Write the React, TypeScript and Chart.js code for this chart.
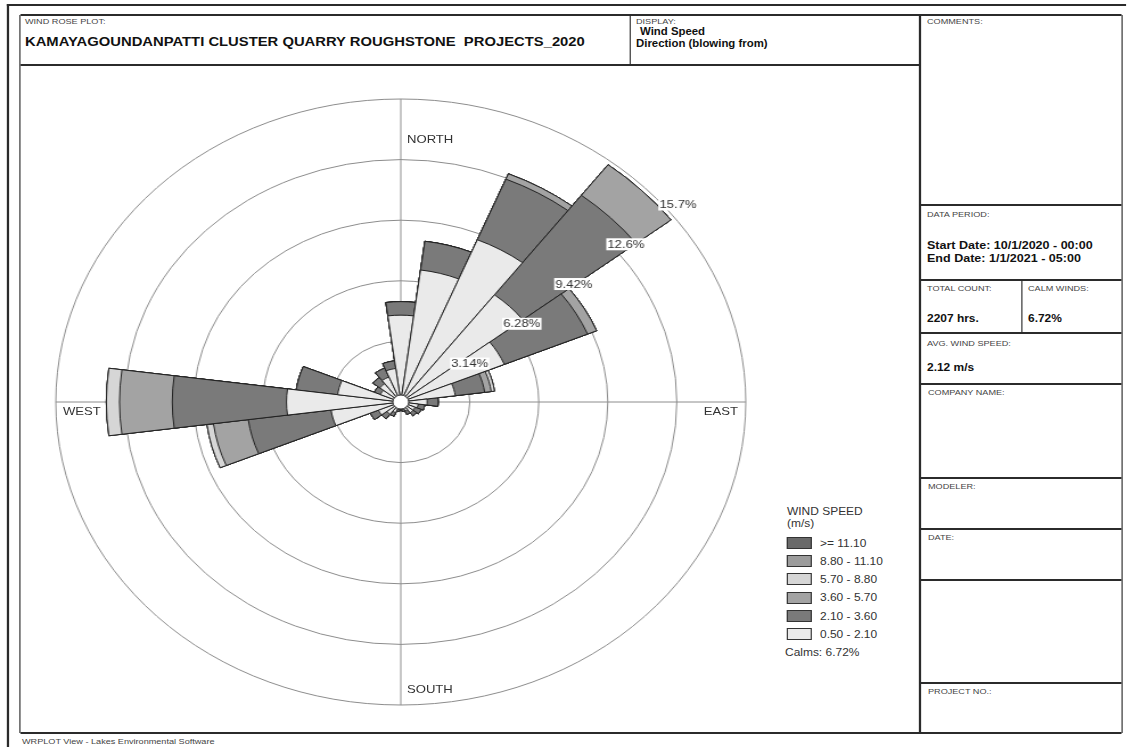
import React, { useEffect, useRef } from "react";
import { Chart, registerables } from "chart.js";

Chart.register(...registerables);

// ---------- DATA ----------
// 24 directions (degrees, "blowing from"), clockwise from North
const DIRECTIONS = [0, 15, 30, 45, 60, 75, 90, 105, 120, 135, 150, 165, 180, 195, 210, 225, 240, 255, 270, 285, 300, 315, 330, 345];

const SPEED_BINS = ["0.50 - 2.10", "2.10 - 3.60", "3.60 - 5.70", "5.70 - 8.80", "8.80 - 11.10", ">= 11.10"];
const BIN_COLORS = ["#eaeaea", "#7a7a7a", "#a3a3a3", "#d6d6d6", "#9c9c9c", "#6a6a6a"];

// frequency (%) per direction for each wind-speed class
const BIN_0_5_2_1 = [4.5, 6.9, 9.1, 7.0, 5.1, 2.5, 1.2, 0.8, 0.7, 0.7, 0.5, 0.4, 0.3, 0.4, 0.6, 0.8, 1.1, 3.2, 5.2, 2.9, 1.0, 1.2, 1.4, 1.75];
const BIN_2_1_3_6 = [0.7, 1.5, 3.4, 6.5, 4.1, 1.35, 0.5, 0.3, 0.3, 0.2, 0.2, 0.1, 0.1, 0.1, 0.2, 0.3, 0.4, 3.8, 5.2, 1.9, 0.3, 0.4, 0.5, 0.4];
const BIN_3_6_5_7 = [0, 0, 0.3, 2.0, 0.45, 0.3, 0, 0, 0, 0, 0, 0, 0, 0, 0, 0, 0, 1.6, 2.4, 0, 0, 0, 0, 0];
const BIN_5_7_8_8 = [0, 0, 0, 0, 0, 0.15, 0, 0, 0, 0, 0, 0, 0, 0, 0, 0, 0, 0.3, 0.6, 0, 0, 0, 0, 0];
const BIN_8_8_11_1 = [0, 0, 0, 0, 0, 0, 0, 0, 0, 0, 0, 0, 0, 0, 0, 0, 0, 0, 0, 0, 0, 0, 0, 0];
const BIN_GE_11_1 = [0, 0, 0, 0, 0, 0, 0, 0, 0, 0, 0, 0, 0, 0, 0, 0, 0, 0, 0, 0, 0, 0, 0, 0];

const RING_VALUES = [3.14, 6.28, 9.42, 12.56, 15.7];
const RING_LABELS = ["3.14%", "6.28%", "9.42%", "12.6%", "15.7%"];
const CALMS = "6.72%";

// ---------- LAYOUT ----------
const SX = 1.1386; // whole sheet is stretched horizontally
const FONT = '"Liberation Sans", Arial, sans-serif';
const LINE = "#2b2b2b";

const roseLabelPlugin = {
  id: "roseDecor",
  beforeDatasetsDraw(chart: any) {
    const s = chart.scales.r;
    const ctx = chart.ctx;
    const cx = s.xCenter, cy = s.yCenter, R = s.drawingArea;
    ctx.save();
    ctx.strokeStyle = "#8c8c8c";
    ctx.lineWidth = 1;
    ctx.beginPath();
    ctx.moveTo(cx - R, cy);
    ctx.lineTo(cx + R, cy);
    ctx.moveTo(cx, cy - R);
    ctx.lineTo(cx, cy + R);
    ctx.stroke();
    ctx.restore();
  },
  afterDatasetsDraw(chart: any) {
    const s = chart.scales.r;
    const ctx = chart.ctx;
    const cx = s.xCenter, cy = s.yCenter;
    ctx.save();
    // calm circle
    ctx.beginPath();
    ctx.arc(cx, cy, 7, 0, Math.PI * 2);
    ctx.fillStyle = "#ffffff";
    ctx.fill();
    ctx.strokeStyle = "#333";
    ctx.lineWidth = 1;
    ctx.stroke();
    // ring labels
    ctx.font = `11.5px ${FONT}`;
    ctx.textAlign = "left";
    ctx.textBaseline = "middle";
    const a = (49 * Math.PI) / 180;
    RING_VALUES.forEach((v, i) => {
      const r = s.getDistanceFromCenterForValue(v) - 2;
      const x = cx + r * Math.sin(a);
      const y = cy - r * Math.cos(a);
      const w = ctx.measureText(RING_LABELS[i]).width;
      ctx.fillStyle = "#ffffff";
      ctx.fillRect(x - 1, y - 6, w + 2, 12);
      ctx.fillStyle = "#333";
      ctx.fillText(RING_LABELS[i], x, y + 0.5);
    });
    ctx.restore();
  },
};

function T(props: { x: number; y: number; size: number; bold?: boolean; color?: string; children: any; right?: boolean }) {
  const { x, y, size, bold, color, children, right } = props;
  const style: any = {
    position: "absolute",
    top: y - 0.49 * size,
    fontSize: size,
    lineHeight: 1,
    fontFamily: FONT,
    fontWeight: bold ? 700 : 400,
    color: color || "#111",
    whiteSpace: "nowrap",
  };
  if (right) style.right = 1128 / SX - x / SX;
  else style.left = x / SX;
  return <div style={style}>{children}</div>;
}

function HL({ x1, x2, y, w = 1.6 }: { x1: number; x2: number; y: number; w?: number }) {
  return <div style={{ position: "absolute", left: x1 / SX, width: (x2 - x1) / SX, top: y - w / 2, height: w, background: LINE }} />;
}
function VL({ x, y1, y2, w = 1.6 }: { x: number; y1: number; y2: number; w?: number }) {
  return <div style={{ position: "absolute", left: x / SX - w / SX / 2, width: w / SX, top: y1, height: y2 - y1, background: LINE }} />;
}

const small = "#444";

export default function App() {
  const canvasRef = useRef<HTMLCanvasElement>(null);

  useEffect(() => {
    const canvas = canvasRef.current;
    if (!canvas) return;
    const bins = [BIN_0_5_2_1, BIN_2_1_3_6, BIN_3_6_5_7, BIN_5_7_8_8, BIN_8_8_11_1, BIN_GE_11_1];
    const cumulative: number[][] = [];
    bins.forEach((b, i) => {
      cumulative.push(b.map((v, j) => v + (i > 0 ? cumulative[i - 1][j] : 0)));
    });
    const chart = new Chart(canvas, {
      type: "polarArea",
      data: {
        labels: DIRECTIONS.map((d) => `${d}°`),
        datasets: SPEED_BINS.map((bin, i) => ({
          label: bin,
          data: cumulative[i],
          backgroundColor: BIN_COLORS[i],
          borderColor: "#222",
          borderWidth: 1,
        })),
      },
      options: {
        animation: false,
        responsive: false,
        layout: { padding: 7 },
        plugins: { legend: { display: false }, tooltip: { enabled: false } },
        scales: {
          r: {
            min: 0,
            max: 15.7,
            startAngle: -7.5,
            afterBuildTicks: (scale: any) => {
              scale.ticks = [0, ...RING_VALUES].map((v) => ({ value: v }));
            },
            ticks: { display: false },
            grid: { color: "#8c8c8c", lineWidth: 1, circular: true },
            angleLines: { display: false },
            pointLabels: { display: false },
          },
        },
      } as any,
      plugins: [roseLabelPlugin],
    });
    return () => chart.destroy();
  }, []);

  const legendRows = SPEED_BINS.map((b, i) => ({ label: b, color: BIN_COLORS[i] })).reverse();

  return (
    <div style={{ position: "absolute", left: 0, top: 0, width: 1128 / SX, height: 747, background: "#fff", transform: `scaleX(${SX})`, transformOrigin: "0 0", overflow: "hidden" }}>
      {/* outer frame */}
      <HL x1={7} x2={1126} y={5} w={2.2} />
      <VL x={8} y1={4} y2={747} w={2.2} />
      {/* inner frame */}
      <HL x1={20} x2={1122} y={15} />
      <HL x1={20} x2={1122} y={733} />
      <VL x={20} y1={15} y2={733} />
      <VL x={1122} y1={15} y2={733} />
      <HL x1={20} x2={920} y={65} />
      <VL x={630} y1={15} y2={65} />
      <VL x={920} y1={15} y2={733} />
      {[205, 280, 333, 384, 478, 529, 580, 683].map((y) => (
        <HL key={y} x1={920} x2={1122} y={y} />
      ))}
      <VL x={1022} y1={280} y2={333} />

      {/* header texts */}
      <T x={25} y={22} size={8} color={small}>WIND ROSE PLOT:</T>
      <T x={25} y={41} size={13} bold>KAMAYAGOUNDANPATTI CLUSTER QUARRY ROUGHSTONE&nbsp; PROJECTS_2020</T>
      <T x={636} y={22} size={8} color={small}>DISPLAY:</T>
      <T x={640} y={32} size={10} bold>Wind Speed</T>
      <T x={636} y={43.5} size={10} bold>Direction (blowing from)</T>
      <T x={927} y={22} size={8} color={small}>COMMENTS:</T>

      {/* right panel */}
      <T x={927} y={215} size={8} color={small}>DATA PERIOD:</T>
      <T x={927} y={245} size={11} bold>Start Date: 10/1/2020 - 00:00</T>
      <T x={927} y={258} size={11} bold>End Date: 1/1/2021 - 05:00</T>
      <T x={927} y={289} size={8} color={small}>TOTAL COUNT:</T>
      <T x={927} y={318} size={10.5} bold>2207 hrs.</T>
      <T x={1028} y={289} size={8} color={small}>CALM WINDS:</T>
      <T x={1028} y={318} size={10.5} bold>{CALMS}</T>
      <T x={927} y={344} size={8} color={small}>AVG. WIND SPEED:</T>
      <T x={927} y={367} size={10.5} bold>2.12 m/s</T>
      <T x={928} y={393} size={8} color={small}>COMPANY NAME:</T>
      <T x={928} y={487} size={8} color={small}>MODELER:</T>
      <T x={928} y={538} size={8} color={small}>DATE:</T>
      <T x={928} y={692} size={8} color={small}>PROJECT NO.:</T>

      <T x={22} y={742} size={8} color={small}>WRPLOT View - Lakes Environmental Software</T>

      {/* chart */}
      <div style={{ position: "absolute", left: 401 / SX - 310, top: 402 - 310, width: 620, height: 620 }}>
        <canvas ref={canvasRef} width={620} height={620} />
      </div>

      {/* compass labels */}
      <T x={407} y={140} size={11.5} color="#333">NORTH</T>
      <T x={407} y={690} size={11.5} color="#333">SOUTH</T>
      <T x={63} y={412} size={11.5} color="#333">WEST</T>
      <T x={738} y={412} size={11.5} color="#333" right>EAST</T>

      {/* legend */}
      <T x={787} y={511} size={10.5} color="#333">WIND SPEED</T>
      <T x={787} y={523} size={10.5} color="#333">(m/s)</T>
      {legendRows.map((r, i) => (
        <React.Fragment key={r.label}>
          <div style={{ position: "absolute", left: 787 / SX, top: 543 + i * 18.2 - 6, width: 25 / SX, height: 12, background: r.color, border: "1px solid #333", boxSizing: "border-box" }} />
          <T x={820} y={543 + i * 18.2} size={10.5} color="#333">{r.label}</T>
        </React.Fragment>
      ))}
      <T x={785} y={652} size={10.5} color="#333">Calms: {CALMS}</T>
    </div>
  );
}
